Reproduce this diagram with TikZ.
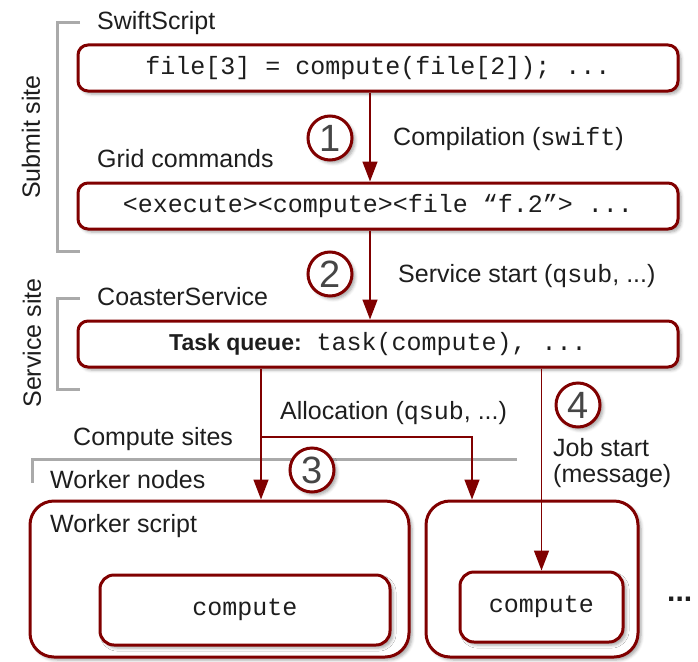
\documentclass[tikz,border=0pt]{standalone}
\usepackage{fontspec}
\setmainfont{Liberation Sans}
\setmonofont{Liberation Mono}
\usepackage{tikz}
\usetikzlibrary{arrows.meta}
\usetikzlibrary{positioning,shadows.blur}

\definecolor{boxred}{RGB}{128,0,0}
\definecolor{brackgray}{RGB}{170,170,170}
\definecolor{txtgray}{RGB}{30,30,30}
\definecolor{numgray}{RGB}{70,70,70}

\begin{document}
\begin{tikzpicture}[x=1pt, y=-1pt,
    stage/.style={rectangle, draw=boxred, line width=3pt, rounded corners=10pt, fill=white,
    minimum width=600pt, minimum height=46pt, inner sep=0pt, text=txtgray,
    font=\fontsize{25}{30}\selectfont\ttfamily,
    blur shadow={shadow xshift=3pt, shadow yshift=-3pt, shadow blur radius=3pt, shadow opacity=35}},
    worker/.style={stage, rounded corners=24pt, minimum width=379pt, minimum height=156pt},
    job/.style={stage, rounded corners=14pt, minimum height=70pt},
    numcirc/.style={circle, draw=boxred, line width=3pt, fill=white, minimum size=44pt, inner sep=0pt,
    text=numgray, font=\fontsize{38}{40}\selectfont,
    blur shadow={shadow xshift=3pt, shadow yshift=-3pt, shadow blur radius=3pt, shadow opacity=35}},
    lbl/.style={anchor=base west, inner sep=0pt, text=txtgray, font=\fontsize{25}{26}\selectfont},
    site/.style={lbl, anchor=center, rotate=90},
    flow/.style={draw=boxred, line width=1.5pt, -{Triangle[length=20pt,width=15pt]}},
    bracket/.style={draw=brackgray, line width=3pt}]

    \useasboundingbox (0,0) rectangle (698,661);

    % site brackets
    \draw[bracket] (80,23) -- (57,23) -- (57,251) -- (80,251);
    \draw[bracket] (80,298) -- (57,298) -- (57,389) -- (80,389);
    \draw[bracket] (517,459) -- (32,459) -- (32,483);

    \node (swift) [stage] at (378,68) {file[3] = compute(file[2]); ...};
    \node (grid) [stage, below=89pt of swift] {<execute><compute><file “f.2”> ...};
    \node (queue) [stage, below=89pt of grid]
    {{\rmfamily\bfseries\fontsize{23}{26}\selectfont Task queue:} task(compute), ...};

    \node (worker1) [worker] at (219.5,579) {};
    \node (worker2) [worker, minimum width=212pt, right=14pt of worker1] {};
    \node (compute1) [job, minimum width=290pt] at (245,610) {compute};
    \node (compute2) [job, minimum width=163pt] at (541.5,607) {compute};

    \node (n1) [numcirc] at (330,138) {1};
    \node (n2) [numcirc] at (330,274) {2};
    \node (n3) [numcirc] at (312,470) {3};
    \node (n4) [numcirc] at (578,405) {4};

    \node (swiftlbl) [lbl] at (97,30) {SwiftScript};
    \node (gridlbl) [lbl] at (97,167) {Grid commands};
    \node (coasterlbl) [lbl] at (97,305) {CoasterService};
    \node (compilbl) [lbl] at (393,145) {Compilation (\texttt{swift})};
    \node (startlbl) [lbl] at (398,282) {Service start (\texttt{qsub}, ...)};
    \node (alloclbl) [lbl] at (280,419) {Allocation (\texttt{qsub}, ...)};
    \node (computelbl) [lbl] at (73,445) {Compute sites};
    \node (nodeslbl) [lbl] at (50,488) {Worker nodes};
    \node (scriptlbl) [lbl] at (50,532) {Worker script};
    \node (joblbl) [lbl, anchor=north west, align=left] at (553,438) {Job start\\(message)};
    \node (submitlbl) [site] at (31,137) {Submit site};
    \node (servicelbl) [site] at (32,343) {Service site};
    \node (more) [lbl, font=\fontsize{30}{30}\selectfont\bfseries] at (667,601) {...};

    \coordinate (split) at (261,437);
    \coordinate (splitend) at (472,437);

    \draw[flow] ([xshift=-8pt]swift.south) -- ([xshift=-8pt]grid.north);
    \draw[flow] ([xshift=-8pt]grid.south) -- ([xshift=-8pt]queue.north);
    \draw[flow] (queue.south -| split) -- (split |- worker1.north);
    \draw[flow] (split) -- (splitend) -- (splitend |- worker2.north);
    \draw[flow] (queue.south -| compute2.north) -- (compute2.north);
\end{tikzpicture}
\end{document}
